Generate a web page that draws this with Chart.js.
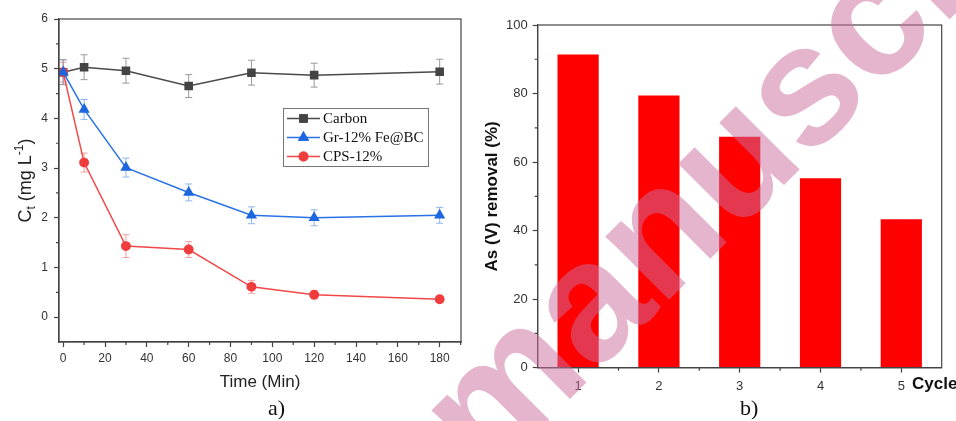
<!DOCTYPE html>
<html>
<head>
<meta charset="utf-8">
<title>Arsenic removal</title>
<script src="https://cdn.jsdelivr.net/npm/chart.js@4.4.0/dist/chart.umd.min.js"></script>
<style>
body{margin:0;background:#fff;width:956px;height:421px;position:relative;overflow:hidden;font-family:"Liberation Sans",Arial,sans-serif}
#wrapA{position:absolute;left:0;top:0;width:480px;height:421px}
#wrapB{position:absolute;left:480px;top:0;width:476px;height:421px}
.cap{position:absolute;top:397px;font:22px/22px "Liberation Serif","Times New Roman",serif;color:#111}
#mark{position:absolute;left:0;top:0;pointer-events:none}
</style>
</head>
<body>
<div id="wrapA"><canvas id="chartA"></canvas></div>
<div id="wrapB"><canvas id="chartB"></canvas></div>
<div class="cap" style="left:268px">a)</div>
<div class="cap" style="left:740px">b)</div>
<canvas id="mark" width="956" height="421"></canvas>
<script>
// panel a) - concentration vs time
var times = [0, 10, 30, 60, 90, 120, 180];
var carbon = [4.93, 5.03, 4.96, 4.65, 4.92, 4.87, 4.94];
var carbonErr = [0.25, 0.25, 0.25, 0.23, 0.25, 0.24, 0.25];
var grFe = [4.93, 4.18, 3.01, 2.51, 2.05, 2.00, 2.05];
var grFeErr = [0.25, 0.2, 0.19, 0.17, 0.17, 0.16, 0.16];
var cps = [4.93, 3.11, 1.43, 1.36, 0.61, 0.45, 0.36];
var cpsErr = [0.2, 0.19, 0.23, 0.16, 0.13, 0.08, 0.05];
var timeTicks = [0, 20, 40, 60, 80, 100, 120, 140, 160, 180];
var concTicks = [0, 1, 2, 3, 4, 5, 6];

// panel b) - reuse cycles
var cycles = [1, 2, 3, 4, 5];
var removal = [91.4, 79.4, 67.4, 55.3, 43.3];
var removalTicks = [0, 20, 40, 60, 80, 100];

var axisCol = '#444';
var tickCol = '#333';

function pts(xs, ys) {
  var out = [];
  for (var i = 0; i < xs.length; i++) out.push({x: xs[i], y: ys[i]});
  return out;
}
function setTicks(list) {
  return function (sc) { sc.ticks = list.map(function (v) { return {value: v}; }); };
}

// box around plot + short minor ticks
var framePlugin = {
  id: 'frame',
  afterDraw: function (chart, args, opts) {
    var ctx = chart.ctx, a = chart.chartArea;
    var xs = chart.scales.x, ys = chart.scales.y;
    ctx.save();
    ctx.strokeStyle = axisCol;
    ctx.lineWidth = 1.2;
    ctx.strokeRect(a.left, a.top, a.right - a.left, a.bottom - a.top);
    ctx.beginPath();
    (opts.minorX || []).forEach(function (v) {
      var px = xs.getPixelForValue(v);
      if (px < a.left - 0.5 || px > a.right + 0.5) return;
      ctx.moveTo(px, a.bottom); ctx.lineTo(px, a.bottom + 3);
    });
    (opts.minorY || []).forEach(function (v) {
      var py = ys.getPixelForValue(v);
      if (py < a.top - 0.5 || py > a.bottom + 0.5) return;
      ctx.moveTo(a.left, py); ctx.lineTo(a.left - 3, py);
    });
    ctx.stroke();
    ctx.restore();
  }
};

// vertical error bars with caps
var errorPlugin = {
  id: 'errbars',
  beforeDatasetsDraw: function (chart) {
    var ctx = chart.ctx;
    var xs = chart.scales.x, ys = chart.scales.y;
    ctx.save();
    ctx.lineWidth = 1;
    chart.data.datasets.forEach(function (ds) {
      if (!ds.err) return;
      ctx.strokeStyle = ds.errColor;
      ds.data.forEach(function (p, i) {
        var px = xs.getPixelForValue(p.x);
        var y1 = ys.getPixelForValue(p.y + ds.err[i]);
        var y2 = ys.getPixelForValue(p.y - ds.err[i]);
        ctx.beginPath();
        ctx.moveTo(px, y1); ctx.lineTo(px, y2);
        ctx.moveTo(px - 3.5, y1); ctx.lineTo(px + 3.5, y1);
        ctx.moveTo(px - 3.5, y2); ctx.lineTo(px + 3.5, y2);
        ctx.stroke();
      });
    });
    ctx.restore();
  }
};

// legend box + y title with sub/superscript for panel a)
var decoA = {
  id: 'decoA',
  afterDraw: function (chart) {
    var ctx = chart.ctx;
    ctx.save();
    // legend
    var bx = 283, by = 108, bw = 145, bh = 58;
    ctx.strokeStyle = '#777';
    ctx.lineWidth = 1;
    ctx.strokeRect(bx + 0.5, by + 0.5, bw, bh);
    var rows = [
      {ds: chart.data.datasets[2], y: 118.5},
      {ds: chart.data.datasets[0], y: 137.5},
      {ds: chart.data.datasets[1], y: 156.5}
    ];
    rows.forEach(function (r) {
      var ds = r.ds;
      ctx.strokeStyle = ds.borderColor;
      ctx.lineWidth = ds.borderWidth;
      ctx.beginPath();
      ctx.moveTo(287, r.y); ctx.lineTo(320, r.y);
      ctx.stroke();
      Chart.helpers.drawPoint(ctx, {pointStyle: ds.pointStyle, radius: ds.pointRadius, borderWidth: 1},
        303.5, r.y);
      ctx.fillStyle = ds.pointBackgroundColor;
      ctx.strokeStyle = ds.pointBackgroundColor;
      Chart.helpers.drawPoint(ctx, {pointStyle: ds.pointStyle, radius: ds.pointRadius, borderWidth: 1},
        303.5, r.y);
      ctx.fillStyle = '#111';
      ctx.font = '15px "Liberation Serif", "Times New Roman", serif';
      ctx.textBaseline = 'middle';
      ctx.textAlign = 'left';
      ctx.fillText(ds.label, 323, r.y + 1);
    });
    // y axis title
    var parts = [
      {t: 'C', f: 18, dy: 0},
      {t: 't', f: 12, dy: 4},
      {t: ' (mg L', f: 18, dy: 0},
      {t: '-1', f: 12, dy: -8},
      {t: ')', f: 18, dy: 0}
    ];
    var total = 0;
    parts.forEach(function (p) {
      ctx.font = p.f + 'px "Liberation Sans", Arial, sans-serif';
      p.w = ctx.measureText(p.t).width;
      total += p.w;
    });
    ctx.translate(31, (chart.chartArea.top + chart.chartArea.bottom) / 2);
    ctx.rotate(-Math.PI / 2);
    ctx.fillStyle = '#222';
    ctx.textBaseline = 'alphabetic';
    var cx = -total / 2;
    parts.forEach(function (p) {
      ctx.font = p.f + 'px "Liberation Sans", Arial, sans-serif';
      ctx.fillText(p.t, cx, p.dy);
      cx += p.w;
    });
    ctx.restore();
  }
};

var decoB = {
  id: 'decoB',
  afterDraw: function (chart) {
    var ctx = chart.ctx;
    ctx.save();
    ctx.fillStyle = '#111';
    ctx.font = 'bold 17px "Liberation Sans", Arial, sans-serif';
    ctx.textBaseline = 'middle';
    ctx.textAlign = 'left';
    ctx.fillText('Cycle', 432, 384);
    ctx.restore();
  }
};

var chartA = new Chart(document.getElementById('chartA'), {
  type: 'line',
  data: {
    datasets: [
      {
        label: 'Gr-12% Fe@BC', data: pts(times, grFe), err: grFeErr, errColor: '#8db5ef',
        borderColor: '#2a72e4', backgroundColor: '#2a72e4', pointBackgroundColor: '#1c66e0',
        pointBorderColor: '#1c66e0', pointStyle: 'triangle', pointRadius: 5, borderWidth: 1.5, order: 0
      },
      {
        label: 'CPS-12%', data: pts(times, cps), err: cpsErr, errColor: '#f3a0a0',
        borderColor: '#f04848', backgroundColor: '#f04848', pointBackgroundColor: '#ef3c3c',
        pointBorderColor: '#ef3c3c', pointStyle: 'circle', pointRadius: 4.2, borderWidth: 1.5, order: 1
      },
      {
        label: 'Carbon', data: pts(times, carbon), err: carbonErr, errColor: '#9a9a9a',
        borderColor: '#4a4a4a', backgroundColor: '#444', pointBackgroundColor: '#444',
        pointBorderColor: '#444', pointStyle: 'rect', pointRadius: 5, borderWidth: 1.5, order: 2
      }
    ]
  },
  options: {
    responsive: true,
    maintainAspectRatio: false,
    animation: false,
    layout: {padding: {top: 19, right: 19, left: 0, bottom: 0}},
    plugins: {
      legend: {display: false},
      tooltip: {enabled: false},
      frame: {minorX: [10, 30, 50, 70, 90, 110, 130, 150, 170, 190], minorY: [0.5, 1.5, 2.5, 3.5, 4.5, 5.5]}
    },
    scales: {
      x: {
        type: 'linear', min: -2, max: 190.2,
        afterBuildTicks: setTicks(timeTicks),
        afterFit: function (sc) { sc.height = 79; },
        grid: {drawOnChartArea: false, tickLength: 5, color: axisCol, tickWidth: 1.2},
        border: {color: axisCol, width: 1.2},
        ticks: {color: tickCol, font: {size: 12}, padding: 4, maxRotation: 0},
        title: {display: true, text: 'Time (Min)', color: '#222', font: {size: 17}, padding: {top: 0, bottom: 28}}
      },
      y: {
        min: -0.5, max: 6,
        afterBuildTicks: setTicks(concTicks),
        afterFit: function (sc) { sc.width = 59; },
        grid: {drawOnChartArea: false, tickLength: 5, color: axisCol, tickWidth: 1.2},
        border: {color: axisCol, width: 1.2},
        ticks: {color: tickCol, font: {size: 12}, padding: 6}
      }
    }
  },
  plugins: [errorPlugin, framePlugin, decoA]
});

var chartB = new Chart(document.getElementById('chartB'), {
  type: 'bar',
  data: {
    datasets: [{
      label: 'As (V) removal', data: pts(cycles, removal),
      backgroundColor: '#ff0000', borderWidth: 0,
      barPercentage: 0.51, categoryPercentage: 1
    }]
  },
  options: {
    responsive: true,
    maintainAspectRatio: false,
    animation: false,
    layout: {padding: {top: 25, right: 14.3, left: 0, bottom: 0}},
    plugins: {
      legend: {display: false},
      tooltip: {enabled: false},
      frame: {minorX: [1.5, 2.5, 3.5, 4.5], minorY: [10, 30, 50, 70, 90]}
    },
    scales: {
      x: {
        type: 'linear', min: 0.5, max: 5.5, offset: false,
        afterBuildTicks: setTicks(cycles),
        afterFit: function (sc) { sc.height = 53.3; },
        grid: {drawOnChartArea: false, tickLength: 5, color: axisCol, tickWidth: 1.2, offset: false},
        border: {color: axisCol, width: 1.2},
        ticks: {color: tickCol, font: {size: 13}, padding: 6, maxRotation: 0}
      },
      y: {
        min: 0, max: 100,
        afterBuildTicks: setTicks(removalTicks),
        afterFit: function (sc) { sc.width = 57.7; },
        grid: {drawOnChartArea: false, tickLength: 5, color: axisCol, tickWidth: 1.2},
        border: {color: axisCol, width: 1.2},
        ticks: {color: tickCol, font: {size: 13}, padding: 5},
        title: {display: true, text: 'As (V) removal (%)', color: '#111',
          font: {size: 17, weight: 'bold'}, padding: {top: 2, bottom: 0}}
      }
    }
  },
  plugins: [framePlugin, decoB]
});

// diagonal watermark across the page
var mk = document.getElementById('mark').getContext('2d');
mk.save();
mk.translate(487, 482);
mk.rotate(-Math.PI / 4);
mk.fillStyle = 'rgba(202,109,156,0.51)';
mk.font = 'bold 170px "Liberation Sans", Arial, sans-serif';
mk.textBaseline = 'alphabetic';
mk.fillText('manuscript', 0, 0);
mk.restore();
</script>
</body>
</html>
